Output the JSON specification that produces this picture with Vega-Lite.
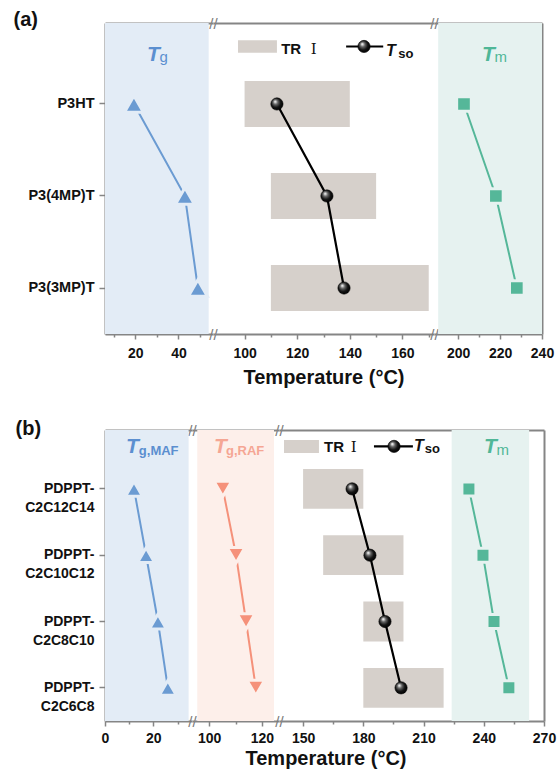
{
"$schema": "https://vega.github.io/schema/vega-lite/v6.json",
"padding": {"left": 13, "top": 9, "right": 2, "bottom": 2},
"background": "white",
"spacing": 31,
"config": {
  "font": "Liberation Sans",
  "view": {"stroke": null},
  "concat": {"spacing": 0},
  "axis": {"domainColor": "#858585", "domainWidth": 2, "tickColor": "#858585", "tickWidth": 1.5, "labelColor": "#111111", "labelFont": "Liberation Sans", "labelFontWeight": "bold", "labelFontSize": 14, "titleFont": "Liberation Sans", "titleFontWeight": "bold", "titleFontSize": 20, "titleColor": "#111111", "grid": false, "labelFlush": false, "labelOverlap": false}
},
"datasets": {
  "a": [
    {"sample": "P3HT", "Tg": 19.4, "TRlo": 100, "TRhi": 140, "Tso": 112.3, "Tm": 202.8},
    {"sample": "P3(4MP)T", "Tg": 43, "TRlo": 110, "TRhi": 150, "Tso": 131.3, "Tm": 218},
    {"sample": "P3(3MP)T", "Tg": 49, "TRlo": 110, "TRhi": 170, "Tso": 137.8, "Tm": 228}
  ],
  "b": [
    {"sample": "PDPPT-C2C12C14", "TgMAF": 12, "TgRAF": 105.2, "TRlo": 150, "TRhi": 180, "Tso": 174.4, "Tm": 232.6},
    {"sample": "PDPPT-C2C10C12", "TgMAF": 17, "TgRAF": 110.2, "TRlo": 160, "TRhi": 200, "Tso": 183.3, "Tm": 239.6},
    {"sample": "PDPPT-C2C8C10", "TgMAF": 21.9, "TgRAF": 114, "TRlo": 180, "TRhi": 200, "Tso": 190.8, "Tm": 245.1},
    {"sample": "PDPPT-C2C6C8", "TgMAF": 26, "TgRAF": 117.7, "TRlo": 180, "TRhi": 220, "Tso": 198.8, "Tm": 252.5}
  ]
},
"vconcat": [
{
  "hconcat": [
  {
    "width": 108, "height": 311,
    "resolve": {"axis": {"x": "independent", "y": "independent"}},
    "layer": [
      {"data": {"values": [{}]}, "mark": {"type": "rect", "color": "#e3ecf6"},
       "encoding": {"x": {"datum": 6, "type": "quantitative", "scale": {"domain": [6, 56], "nice": false, "zero": false},
          "axis": {"orient": "top", "values": [56], "labelExpr": "'//'", "ticks": false, "labelBaseline": "middle", "labelPadding": 0, "labelColor": "#7a7a7a", "labelFontWeight": "normal", "labelFontSize": 15, "title": null}},
        "x2": {"datum": 54}}},
      {"data": {"name": "a"}, "mark": {"type": "line", "color": "#6b9bd2", "strokeWidth": 2},
       "encoding": {"x": {"field": "Tg", "type": "quantitative", "scale": {"domain": [6, 56], "nice": false, "zero": false},
          "axis": {"orient": "bottom", "values": [10, 30, 50], "tickSize": 3, "labels": false, "domain": false, "title": null}},
        "y": {"field": "sample", "type": "nominal", "scale": {"type": "band", "domain": ["P3HT", "P3(4MP)T", "P3(3MP)T"], "paddingInner": 0.5, "paddingOuter": 0.44, "align": 0.716}, "axis": null},
        "order": {"value": null}}},
      {"data": {"name": "a"}, "mark": {"type": "point", "shape": "triangle-up", "filled": true, "size": 360, "fill": "#6b9bd2", "stroke": "#e3ecf6", "strokeWidth": 3, "opacity": 1},
       "encoding": {"x": {"field": "Tg", "type": "quantitative", "scale": {"domain": [6, 56], "nice": false, "zero": false},
          "axis": {"orient": "bottom", "values": [20, 40], "title": null, "tickSize": 5, "labelPadding": 7}},
        "y": {"field": "sample", "type": "nominal", "scale": {"type": "band", "domain": ["P3HT", "P3(4MP)T", "P3(3MP)T"], "paddingInner": 0.5, "paddingOuter": 0.44, "align": 0.716},
          "axis": {"title": "(a)", "titleAngle": 0, "titleX": -92, "titleY": 2, "titleAlign": "left", "titleBaseline": "alphabetic", "titleFontSize": 20, "labelFontSize": 14.5, "labelPadding": 5, "tickSize": 6}}}},
      {"data": {"values": [{}]}, "mark": {"type": "text", "text": "T", "fontSize": 21, "fontWeight": "bold", "fontStyle": "italic", "color": "#5b8fd0", "align": "left", "baseline": "alphabetic", "dy": -42.5},
       "encoding": {"x": {"datum": 25.4, "type": "quantitative",
          "axis": {"orient": "bottom", "values": [56], "labelExpr": "'//'", "ticks": false, "domain": false, "labelBaseline": "middle", "labelPadding": 0, "labelColor": "#7a7a7a", "labelFontWeight": "normal", "labelFontSize": 15, "title": null}},
        "y": {"datum": "P3HT", "type": "nominal", "axis": null}}},
      {"data": {"values": [{}]}, "mark": {"type": "text", "text": "g", "fontSize": 15, "color": "#5b8fd0", "align": "left", "baseline": "alphabetic", "dy": -41.5},
       "encoding": {"x": {"datum": 31.2, "type": "quantitative", "axis": null}, "y": {"datum": "P3HT", "type": "nominal", "axis": null}}}
    ]
  },
  {
    "width": 221, "height": 311,
    "resolve": {"axis": {"x": "independent", "y": "independent"}},
    "layer": [
      {"data": {"name": "a"}, "mark": {"type": "bar", "color": "#d6d0cb"},
       "encoding": {"x": {"field": "TRlo", "type": "quantitative", "scale": {"domain": [88, 172], "nice": false, "zero": false},
          "axis": {"orient": "bottom", "values": [100, 120, 140, 160], "title": "Temperature (°C)", "titleY": 49, "titleBaseline": "alphabetic", "titleFontSize": 20, "tickSize": 5, "labelPadding": 7}},
        "x2": {"field": "TRhi"},
        "y": {"field": "sample", "type": "nominal", "scale": {"type": "band", "domain": ["P3HT", "P3(4MP)T", "P3(3MP)T"], "paddingInner": 0.5, "paddingOuter": 0.44, "align": 0.716}, "axis": null}}},
      {"data": {"name": "a"}, "mark": {"type": "line", "color": "#000000", "strokeWidth": 2.2},
       "encoding": {"x": {"field": "Tso", "type": "quantitative", "scale": {"domain": [88, 172], "nice": false, "zero": false},
          "axis": {"orient": "top", "values": [172], "labelExpr": "'//'", "ticks": false, "labelBaseline": "middle", "labelPadding": 0, "labelColor": "#7a7a7a", "labelFontWeight": "normal", "labelFontSize": 15, "title": null}},
        "y": {"field": "sample", "type": "nominal", "axis": null}, "order": {"value": null}}},
      {"data": {"name": "a"}, "mark": {"type": "point", "shape": "circle", "filled": true, "size": 150, "opacity": 1, "stroke": "#000000", "strokeWidth": 0.6,
          "fill": {"gradient": "radial", "x1": 0.35, "y1": 0.3, "r1": 0.02, "x2": 0.45, "y2": 0.45, "r2": 0.6, "stops": [{"offset": 0, "color": "#ffffff"}, {"offset": 0.3, "color": "#666666"}, {"offset": 0.65, "color": "#111111"}, {"offset": 1, "color": "#000000"}]}},
       "encoding": {"x": {"field": "Tso", "type": "quantitative",
          "axis": {"orient": "bottom", "values": [110, 130, 150, 170], "tickSize": 3, "labels": false, "domain": false, "title": null}},
        "y": {"field": "sample", "type": "nominal", "axis": null}}},
      {"data": {"values": [{}]}, "mark": {"type": "rule", "color": "#d6d0cb", "strokeWidth": 12.5, "yOffset": -57.5},
       "encoding": {"x": {"datum": 97.5, "type": "quantitative",
          "axis": {"orient": "bottom", "values": [172], "labelExpr": "'//'", "ticks": false, "domain": false, "labelBaseline": "middle", "labelPadding": 0, "labelColor": "#7a7a7a", "labelFontWeight": "normal", "labelFontSize": 15, "title": null}},
        "x2": {"datum": 112.3}, "y": {"datum": "P3HT", "type": "nominal", "axis": null}}},
      {"data": {"values": [{}]}, "mark": {"type": "text", "text": "TR", "fontSize": 15, "fontWeight": "bold", "color": "#111111", "align": "left", "baseline": "alphabetic", "dy": -50},
       "encoding": {"x": {"datum": 113.9, "type": "quantitative", "axis": null}, "y": {"datum": "P3HT", "type": "nominal", "axis": null}}},
      {"data": {"values": [{}]}, "mark": {"type": "text", "text": "Ⅰ", "font": "DejaVu Serif", "fontSize": 15, "color": "#111111", "align": "left", "baseline": "alphabetic", "dy": -50},
       "encoding": {"x": {"datum": 125.2, "type": "quantitative", "axis": null}, "y": {"datum": "P3HT", "type": "nominal", "axis": null}}},
      {"data": {"values": [{}]}, "mark": {"type": "rule", "color": "#000000", "strokeWidth": 2.2, "yOffset": -57.5},
       "encoding": {"x": {"datum": 138.6, "type": "quantitative", "axis": null}, "x2": {"datum": 152.7}, "y": {"datum": "P3HT", "type": "nominal", "axis": null}}},
      {"data": {"values": [{}]}, "mark": {"type": "point", "shape": "circle", "filled": true, "size": 150, "opacity": 1, "stroke": "#000000", "strokeWidth": 0.6, "yOffset": -57.5,
          "fill": {"gradient": "radial", "x1": 0.35, "y1": 0.3, "r1": 0.02, "x2": 0.45, "y2": 0.45, "r2": 0.6, "stops": [{"offset": 0, "color": "#ffffff"}, {"offset": 0.3, "color": "#666666"}, {"offset": 0.65, "color": "#111111"}, {"offset": 1, "color": "#000000"}]}},
       "encoding": {"x": {"datum": 145.4, "type": "quantitative", "axis": null}, "y": {"datum": "P3HT", "type": "nominal", "axis": null}}},
      {"data": {"values": [{}]}, "mark": {"type": "text", "text": "T", "fontSize": 16, "fontWeight": "bold", "fontStyle": "italic", "color": "#111111", "align": "left", "baseline": "alphabetic", "dy": -47.5},
       "encoding": {"x": {"datum": 153.8, "type": "quantitative", "axis": null}, "y": {"datum": "P3HT", "type": "nominal", "axis": null}}},
      {"data": {"values": [{}]}, "mark": {"type": "text", "text": "so", "fontSize": 13, "fontWeight": "bold", "color": "#111111", "align": "left", "baseline": "alphabetic", "dy": -46},
       "encoding": {"x": {"datum": 158.4, "type": "quantitative", "axis": null}, "y": {"datum": "P3HT", "type": "nominal", "axis": null}}}
    ]
  },
  {
    "width": 108, "height": 311,
    "resolve": {"axis": {"x": "independent", "y": "independent"}},
    "layer": [
      {"data": {"values": [{}]}, "mark": {"type": "rect", "color": "#e6f2f0"},
       "encoding": {"x": {"datum": 190.5, "type": "quantitative", "scale": {"domain": [188.5, 240], "nice": false, "zero": false},
          "axis": {"orient": "top", "labels": false, "ticks": false, "title": null}},
        "x2": {"datum": 240}}},
      {"data": {"name": "a"}, "mark": {"type": "line", "color": "#55b799", "strokeWidth": 2},
       "encoding": {"x": {"field": "Tm", "type": "quantitative", "scale": {"domain": [188.5, 240], "nice": false, "zero": false},
          "axis": {"orient": "bottom", "values": [210, 230], "tickSize": 3, "labels": false, "domain": false, "title": null}},
        "y": {"field": "sample", "type": "nominal", "scale": {"type": "band", "domain": ["P3HT", "P3(4MP)T", "P3(3MP)T"], "paddingInner": 0.5, "paddingOuter": 0.44, "align": 0.716}, "axis": null},
        "order": {"value": null}}},
      {"data": {"name": "a"}, "mark": {"type": "point", "shape": "square", "filled": true, "size": 215, "fill": "#55b799", "stroke": "#e6f2f0", "strokeWidth": 3, "opacity": 1},
       "encoding": {"x": {"field": "Tm", "type": "quantitative", "scale": {"domain": [188.5, 240], "nice": false, "zero": false},
          "axis": {"orient": "bottom", "values": [200, 220, 240], "title": null, "tickSize": 5, "labelPadding": 7}},
        "y": {"field": "sample", "type": "nominal", "axis": {"orient": "right", "labels": false, "ticks": false, "title": null}}}},
      {"data": {"values": [{}]}, "mark": {"type": "text", "text": "T", "fontSize": 21, "fontWeight": "bold", "fontStyle": "italic", "color": "#4fb797", "align": "left", "baseline": "alphabetic", "dy": -42.5},
       "encoding": {"x": {"datum": 211.4, "type": "quantitative", "axis": null}, "y": {"datum": "P3HT", "type": "nominal", "axis": null}}},
      {"data": {"values": [{}]}, "mark": {"type": "text", "text": "m", "fontSize": 15, "color": "#4fb797", "align": "left", "baseline": "alphabetic", "dy": -41.5},
       "encoding": {"x": {"datum": 217.3, "type": "quantitative", "axis": null}, "y": {"datum": "P3HT", "type": "nominal", "axis": null}}}
    ]
  }
  ],
  "spacing": 0,
  "bounds": "flush"
},
{
  "hconcat": [
  {
    "width": 87, "height": 291,
    "resolve": {"axis": {"x": "independent", "y": "independent"}},
    "layer": [
      {"data": {"values": [{}]}, "mark": {"type": "rect", "color": "#e3ecf6"},
       "encoding": {"x": {"datum": 0, "type": "quantitative", "scale": {"domain": [0, 36], "nice": false, "zero": false},
          "axis": {"orient": "top", "values": [36], "labelExpr": "'//'", "ticks": false, "labelBaseline": "middle", "labelPadding": 0, "labelColor": "#7a7a7a", "labelFontWeight": "normal", "labelFontSize": 15, "title": null}},
        "x2": {"datum": 34.6}}},
      {"data": {"name": "b"}, "mark": {"type": "line", "color": "#6b9bd2", "strokeWidth": 2},
       "encoding": {"x": {"field": "TgMAF", "type": "quantitative", "scale": {"domain": [0, 36], "nice": false, "zero": false},
          "axis": {"orient": "bottom", "values": [10, 30], "tickSize": 3, "labels": false, "domain": false, "title": null}},
        "y": {"field": "sample", "type": "nominal", "scale": {"type": "band", "domain": ["PDPPT-C2C12C14", "PDPPT-C2C10C12", "PDPPT-C2C8C10", "PDPPT-C2C6C8"], "paddingInner": 0.4, "paddingOuter": 0.394, "align": 0.746}, "axis": null},
        "order": {"value": null}}},
      {"data": {"name": "b"}, "mark": {"type": "point", "shape": "triangle-up", "filled": true, "size": 290, "fill": "#6b9bd2", "stroke": "#e3ecf6", "strokeWidth": 3, "opacity": 1},
       "encoding": {"x": {"field": "TgMAF", "type": "quantitative", "scale": {"domain": [0, 36], "nice": false, "zero": false},
          "axis": {"orient": "bottom", "values": [0, 20], "title": null, "tickSize": 5, "labelPadding": 5}},
        "y": {"field": "sample", "type": "nominal", "scale": {"type": "band", "domain": ["PDPPT-C2C12C14", "PDPPT-C2C10C12", "PDPPT-C2C8C10", "PDPPT-C2C6C8"], "paddingInner": 0.4, "paddingOuter": 0.394, "align": 0.746},
          "axis": {"title": "(b)", "titleAngle": 0, "titleX": -90, "titleY": 4, "titleAlign": "left", "titleBaseline": "alphabetic", "titleFontSize": 20, "labelFontSize": 14, "labelPadding": 5, "tickSize": 6, "labelAlign": "right", "labelLineHeight": 19,
            "labelExpr": "['PDPPT-', replace(datum.label, 'PDPPT-', '')]"}}}},
      {"data": {"values": [{}]}, "mark": {"type": "text", "text": "T", "fontSize": 21, "fontWeight": "bold", "fontStyle": "italic", "color": "#5b8fd0", "align": "left", "baseline": "alphabetic", "dy": -36},
       "encoding": {"x": {"datum": 8.7, "type": "quantitative",
          "axis": {"orient": "bottom", "values": [36], "labelExpr": "'//'", "ticks": false, "domain": false, "labelBaseline": "middle", "labelPadding": 0, "labelColor": "#7a7a7a", "labelFontWeight": "normal", "labelFontSize": 15, "title": null}},
        "y": {"datum": "PDPPT-C2C12C14", "type": "nominal", "axis": null}}},
      {"data": {"values": [{}]}, "mark": {"type": "text", "text": "g,MAF", "fontSize": 13, "fontWeight": "bold", "color": "#5b8fd0", "align": "left", "baseline": "alphabetic", "dy": -34},
       "encoding": {"x": {"datum": 14, "type": "quantitative", "axis": null}, "y": {"datum": "PDPPT-C2C12C14", "type": "nominal", "axis": null}}}
    ]
  },
  {
    "width": 87, "height": 291,
    "resolve": {"axis": {"x": "independent", "y": "independent"}},
    "layer": [
      {"data": {"values": [{}]}, "mark": {"type": "rect", "color": "#fdefea"},
       "encoding": {"x": {"datum": 95.5, "type": "quantitative", "scale": {"domain": [93.5, 126.5], "nice": false, "zero": false},
          "axis": {"orient": "top", "values": [126.5], "labelExpr": "'//'", "ticks": false, "labelBaseline": "middle", "labelPadding": 0, "labelColor": "#7a7a7a", "labelFontWeight": "normal", "labelFontSize": 15, "title": null}},
        "x2": {"datum": 124.6}}},
      {"data": {"name": "b"}, "mark": {"type": "line", "color": "#f5917a", "strokeWidth": 2},
       "encoding": {"x": {"field": "TgRAF", "type": "quantitative", "scale": {"domain": [93.5, 126.5], "nice": false, "zero": false},
          "axis": {"orient": "bottom", "values": [110], "tickSize": 3, "labels": false, "domain": false, "title": null}},
        "y": {"field": "sample", "type": "nominal", "scale": {"type": "band", "domain": ["PDPPT-C2C12C14", "PDPPT-C2C10C12", "PDPPT-C2C8C10", "PDPPT-C2C6C8"], "paddingInner": 0.4, "paddingOuter": 0.394, "align": 0.746}, "axis": null},
        "order": {"value": null}}},
      {"data": {"name": "b"}, "mark": {"type": "point", "shape": "triangle-down", "filled": true, "size": 315, "fill": "#f5917a", "stroke": "#fdefea", "strokeWidth": 3, "opacity": 1},
       "encoding": {"x": {"field": "TgRAF", "type": "quantitative", "scale": {"domain": [93.5, 126.5], "nice": false, "zero": false},
          "axis": {"orient": "bottom", "values": [100, 120], "title": "Temperature (°C)", "titleX": 133.5, "titleY": 43, "titleBaseline": "alphabetic", "titleFontSize": 20, "tickSize": 5, "labelPadding": 5}},
        "y": {"field": "sample", "type": "nominal", "axis": null}}},
      {"data": {"values": [{}]}, "mark": {"type": "text", "text": "T", "fontSize": 21, "fontWeight": "bold", "fontStyle": "italic", "color": "#f5a694", "align": "left", "baseline": "alphabetic", "dy": -36},
       "encoding": {"x": {"datum": 101.8, "type": "quantitative",
          "axis": {"orient": "bottom", "values": [126.5], "labelExpr": "'//'", "ticks": false, "domain": false, "labelBaseline": "middle", "labelPadding": 0, "labelColor": "#7a7a7a", "labelFontWeight": "normal", "labelFontSize": 15, "title": null}},
        "y": {"datum": "PDPPT-C2C12C14", "type": "nominal", "axis": null}}},
      {"data": {"values": [{}]}, "mark": {"type": "text", "text": "g,RAF", "fontSize": 13, "fontWeight": "bold", "color": "#f5a694", "align": "left", "baseline": "alphabetic", "dy": -34},
       "encoding": {"x": {"datum": 106.4, "type": "quantitative", "axis": null}, "y": {"datum": "PDPPT-C2C12C14", "type": "nominal", "axis": null}}}
    ]
  },
  {
    "width": 265, "height": 291,
    "resolve": {"axis": {"x": "independent", "y": "independent"}},
    "layer": [
      {"data": {"values": [{}]}, "mark": {"type": "rect", "color": "#e6f2f0"},
       "encoding": {"x": {"datum": 224, "type": "quantitative", "scale": {"domain": [138, 270], "nice": false, "zero": false},
          "axis": {"orient": "top", "labels": false, "ticks": false, "title": null}},
        "x2": {"datum": 262.6}}},
      {"data": {"name": "b"}, "mark": {"type": "bar", "color": "#d6d0cb"},
       "encoding": {"x": {"field": "TRlo", "type": "quantitative", "scale": {"domain": [138, 270], "nice": false, "zero": false},
          "axis": {"orient": "bottom", "values": [165, 195, 225, 255], "tickSize": 3, "labels": false, "domain": false, "title": null}},
        "x2": {"field": "TRhi"},
        "y": {"field": "sample", "type": "nominal", "scale": {"type": "band", "domain": ["PDPPT-C2C12C14", "PDPPT-C2C10C12", "PDPPT-C2C8C10", "PDPPT-C2C6C8"], "paddingInner": 0.4, "paddingOuter": 0.394, "align": 0.746}, "axis": null}}},
      {"data": {"name": "b"}, "mark": {"type": "line", "color": "#000000", "strokeWidth": 2.2},
       "encoding": {"x": {"field": "Tso", "type": "quantitative", "axis": null}, "y": {"field": "sample", "type": "nominal", "axis": null}, "order": {"value": null}}},
      {"data": {"name": "b"}, "mark": {"type": "point", "shape": "circle", "filled": true, "size": 150, "opacity": 1, "stroke": "#000000", "strokeWidth": 0.6,
          "fill": {"gradient": "radial", "x1": 0.35, "y1": 0.3, "r1": 0.02, "x2": 0.45, "y2": 0.45, "r2": 0.6, "stops": [{"offset": 0, "color": "#ffffff"}, {"offset": 0.3, "color": "#666666"}, {"offset": 0.65, "color": "#111111"}, {"offset": 1, "color": "#000000"}]}},
       "encoding": {"x": {"field": "Tso", "type": "quantitative", "axis": null}, "y": {"field": "sample", "type": "nominal", "axis": null}}},
      {"data": {"name": "b"}, "mark": {"type": "line", "color": "#55b799", "strokeWidth": 2},
       "encoding": {"x": {"field": "Tm", "type": "quantitative", "axis": null}, "y": {"field": "sample", "type": "nominal", "axis": null}, "order": {"value": null}}},
      {"data": {"name": "b"}, "mark": {"type": "point", "shape": "square", "filled": true, "size": 196, "fill": "#55b799", "stroke": "#e6f2f0", "strokeWidth": 3, "opacity": 1},
       "encoding": {"x": {"field": "Tm", "type": "quantitative",
          "axis": {"orient": "bottom", "values": [150, 180, 210, 240, 270], "title": null, "tickSize": 5, "labelPadding": 5}},
        "y": {"field": "sample", "type": "nominal", "axis": {"orient": "right", "labels": false, "ticks": false, "title": null}}}},
      {"data": {"values": [{}]}, "mark": {"type": "rule", "color": "#d6d0cb", "strokeWidth": 13, "yOffset": -42.5},
       "encoding": {"x": {"datum": 140.5, "type": "quantitative", "axis": null}, "x2": {"datum": 157.9}, "y": {"datum": "PDPPT-C2C12C14", "type": "nominal", "axis": null}}},
      {"data": {"values": [{}]}, "mark": {"type": "text", "text": "TR", "fontSize": 15, "fontWeight": "bold", "color": "#111111", "align": "left", "baseline": "alphabetic", "dy": -37},
       "encoding": {"x": {"datum": 160.4, "type": "quantitative", "axis": null}, "y": {"datum": "PDPPT-C2C12C14", "type": "nominal", "axis": null}}},
      {"data": {"values": [{}]}, "mark": {"type": "text", "text": "Ⅰ", "font": "DejaVu Serif", "fontSize": 15, "color": "#111111", "align": "left", "baseline": "alphabetic", "dy": -37},
       "encoding": {"x": {"datum": 173.8, "type": "quantitative", "axis": null}, "y": {"datum": "PDPPT-C2C12C14", "type": "nominal", "axis": null}}},
      {"data": {"values": [{}]}, "mark": {"type": "rule", "color": "#000000", "strokeWidth": 2.2, "yOffset": -42.5},
       "encoding": {"x": {"datum": 185.3, "type": "quantitative", "axis": null}, "x2": {"datum": 204.7}, "y": {"datum": "PDPPT-C2C12C14", "type": "nominal", "axis": null}}},
      {"data": {"values": [{}]}, "mark": {"type": "point", "shape": "circle", "filled": true, "size": 150, "opacity": 1, "stroke": "#000000", "strokeWidth": 0.6, "yOffset": -42.5,
          "fill": {"gradient": "radial", "x1": 0.35, "y1": 0.3, "r1": 0.02, "x2": 0.45, "y2": 0.45, "r2": 0.6, "stops": [{"offset": 0, "color": "#ffffff"}, {"offset": 0.3, "color": "#666666"}, {"offset": 0.65, "color": "#111111"}, {"offset": 1, "color": "#000000"}]}},
       "encoding": {"x": {"datum": 195.3, "type": "quantitative", "axis": null}, "y": {"datum": "PDPPT-C2C12C14", "type": "nominal", "axis": null}}},
      {"data": {"values": [{}]}, "mark": {"type": "text", "text": "T", "fontSize": 16, "fontWeight": "bold", "fontStyle": "italic", "color": "#111111", "align": "left", "baseline": "alphabetic", "dy": -37.5},
       "encoding": {"x": {"datum": 205.2, "type": "quantitative", "axis": null}, "y": {"datum": "PDPPT-C2C12C14", "type": "nominal", "axis": null}}},
      {"data": {"values": [{}]}, "mark": {"type": "text", "text": "so", "fontSize": 13, "fontWeight": "bold", "color": "#111111", "align": "left", "baseline": "alphabetic", "dy": -35.5},
       "encoding": {"x": {"datum": 210.6, "type": "quantitative", "axis": null}, "y": {"datum": "PDPPT-C2C12C14", "type": "nominal", "axis": null}}},
      {"data": {"values": [{}]}, "mark": {"type": "text", "text": "T", "fontSize": 21, "fontWeight": "bold", "fontStyle": "italic", "color": "#4fb797", "align": "left", "baseline": "alphabetic", "dy": -36},
       "encoding": {"x": {"datum": 240.1, "type": "quantitative", "axis": null}, "y": {"datum": "PDPPT-C2C12C14", "type": "nominal", "axis": null}}},
      {"data": {"values": [{}]}, "mark": {"type": "text", "text": "m", "fontSize": 15, "color": "#4fb797", "align": "left", "baseline": "alphabetic", "dy": -34},
       "encoding": {"x": {"datum": 246.4, "type": "quantitative", "axis": null}, "y": {"datum": "PDPPT-C2C12C14", "type": "nominal", "axis": null}}}
    ]
  }
  ],
  "spacing": 0,
  "bounds": "flush"
}
]
}
